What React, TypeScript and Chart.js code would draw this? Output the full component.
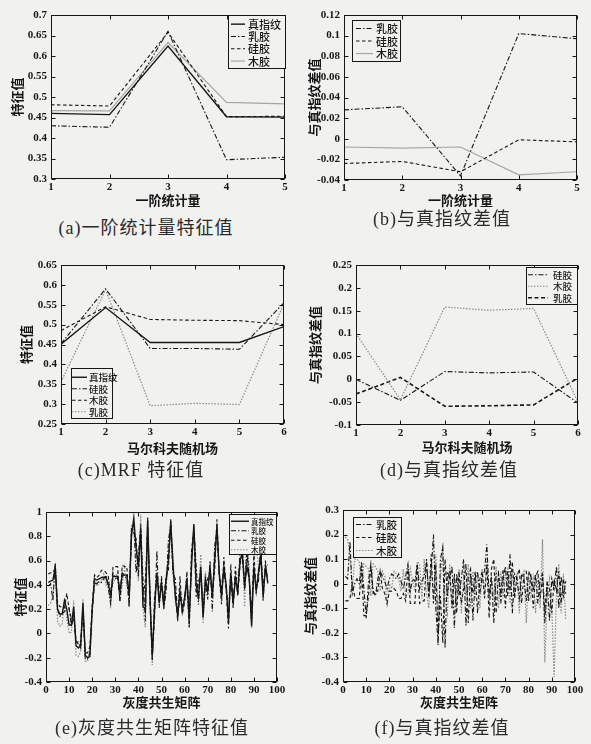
import React, { useEffect, useRef } from "react";
import { Chart, registerables } from "chart.js";

Chart.register(...registerables);

const BG = "#f1f1ef";
const INK = "#161616";
const LIGHT = "#a6a6a6";
const DOT = "#8a8a8a";
const MIXED = '"Liberation Serif", "Noto Sans CJK SC", serif';
const CJK = '"Noto Sans CJK SC", "Noto Sans CJK JP", sans-serif';

// ---------- (a) first-order statistics ----------
const firstOrderX = [1, 2, 3, 4, 5];
const aTrueFp = [0.46, 0.457, 0.624, 0.452, 0.451];
const aLatex = [0.43, 0.426, 0.66, 0.347, 0.353];
const aSilicone = [0.481, 0.478, 0.658, 0.452, 0.453];
const aWood = [0.467, 0.466, 0.633, 0.487, 0.483];

// ---------- (b) difference to true fingerprint ----------
const bLatex = [0.028, 0.031, -0.036, 0.102, 0.097];
const bSilicone = [-0.024, -0.022, -0.032, -0.001, -0.003];
const bWood = [-0.008, -0.009, -0.008, -0.035, -0.032];

// ---------- (c) MRF ----------
const mrfX = [1, 2, 3, 4, 5, 6];
const cTrueFp = [0.451, 0.543, 0.455, 0.455, 0.455, 0.495];
const cSilicone = [0.452, 0.59, 0.44, 0.44, 0.438, 0.555];
const cWood = [0.485, 0.545, 0.513, 0.511, 0.51, 0.5];
const cLatex = [0.356, 0.588, 0.296, 0.302, 0.299, 0.553];

// ---------- (d) MRF difference ----------
const dSilicone = [0.0, -0.046, 0.017, 0.014, 0.016, -0.052];
const dWood = [0.1, -0.045, 0.158, 0.151, 0.155, -0.05];
const dLatex = [-0.032, 0.004, -0.059, -0.058, -0.056, 0.003];

// ---------- (e) GLCM ----------
const glcmX = Array.from({ length: 96 }, (_, i) => i + 1);
const eTrueFp = [
  0.42, 0.43, 0.44, 0.54, 0.2, 0.16, 0.16, 0.27, 0.2, 0.07,
  0.07, 0.22, -0.1, -0.12, -0.1, 0.25, -0.18, -0.2, -0.19, 0.2,
  0.45, 0.44, 0.45, 0.46, 0.46, 0.46, 0.4, 0.32, 0.47, 0.47,
  0.47, 0.35, 0.48, 0.48, 0.48, 0.32, 0.8, 0.95, 0.7, 0.55,
  0.85, 0.22, 0.2, 0.93, 0.3, -0.18, 0.2, 0.5, 0.25, 0.42,
  0.22, 0.45, 0.6, 0.92, 0.55, 0.3, 0.15, 0.35, 0.18, 0.3,
  0.45, 0.15, 0.55, 0.9, 0.4, 0.3, 0.55, 0.13, 0.45, 0.35,
  0.55, 0.3, 0.6, 0.88, 0.5, 0.3, 0.55, 0.4, 0.09, 0.5,
  0.25, 0.45, 0.35, 0.6, 0.65, 0.4, 0.55, 0.45, 0.06, 0.55,
  0.35, 0.5, 0.65, 0.3, 0.55, 0.42,
];
const eLatex = [
  0.39, 0.41, 0.27, 0.58, 0.2, 0.14, 0.16, 0.18, 0.22, 0.21,
  0.06, 0.14, -0.07, -0.07, -0.12, 0.2, -0.21, -0.21, -0.17, 0.18,
  0.41, 0.41, 0.43, 0.42, 0.45, 0.48, 0.37, 0.24, 0.5, 0.45,
  0.46, 0.27, 0.5, 0.47, 0.45, 0.23, 0.85, 0.9, 0.5, 0.65,
  0.88, 0.45, 0.1, 0.95, 0.25, -0.2, 0.13, 0.68, 0.21, 0.47,
  0.2, 0.35, 0.77, 0.89, 0.49, 0.45, 0.13, 0.3, 0.22, 0.27,
  0.4, 0.05, 0.6, 0.87, 0.56, 0.26, 0.5, 0.21, 0.43, 0.28,
  0.6, 0.18, 0.72, 0.84, 0.48, 0.36, 0.51, 0.38, 0.16, 0.45,
  0.22, 0.48, 0.31, 0.68, 0.63, 0.36, 0.67, 0.44, 0.21, 0.53,
  0.37, 0.43, 0.75, 0.27, 0.6, 0.41,
];
const eSilicone = [
  0.49, 0.5, 0.5, 0.54, 0.25, 0.22, 0.22, 0.21, 0.33, 0.2,
  0.12, 0.15, -0.06, -0.09, -0.07, 0.2, -0.16, -0.16, -0.11, 0.23,
  0.48, 0.46, 0.48, 0.52, 0.52, 0.5, 0.47, 0.25, 0.55, 0.55,
  0.55, 0.27, 0.56, 0.55, 0.55, 0.22, 0.86, 0.83, 0.78, 0.47,
  0.9, 0.27, 0.44, 0.83, 0.35, -0.23, 0.3, 0.46, 0.37, 0.37,
  0.3, 0.47, 0.52, 0.95, 0.51, 0.34, 0.1, 0.47, 0.16, 0.25,
  0.51, 0.07, 0.69, 0.84, 0.3, 0.42, 0.51, 0.17, 0.39, 0.45,
  0.5, 0.33, 0.51, 0.94, 0.47, 0.24, 0.63, 0.36, 0.04, 0.57,
  0.21, 0.55, 0.32, 0.55, 0.71, 0.37, 0.71, 0.45, 0.08, 0.67,
  0.33, 0.53, 0.6, 0.38, 0.53, 0.46,
];
const eWood = [
  0.23, 0.25, 0.32, 0.57, 0.1, 0.06, 0.07, 0.29, 0.12, 0.0,
  0.01, 0.27, -0.18, -0.19, -0.15, 0.28, -0.23, -0.23, -0.11, 0.2,
  0.47, 0.39, 0.41, 0.44, 0.49, 0.4, 0.45, 0.36, 0.41, 0.46,
  0.5, 0.26, 0.4, 0.54, 0.38, 0.36, 0.9, 0.87, 0.75, 0.43,
  0.98, 0.2, 0.05, 0.96, 0.42, -0.26, 0.3, 0.47, 0.33, 0.36,
  0.34, 0.41, 0.65, 0.84, 0.65, 0.25, 0.21, 0.31, 0.28, 0.24,
  0.49, 0.05, 0.63, 0.88, 0.45, 0.23, 0.65, 0.08, 0.51, 0.32,
  0.49, 0.38, 0.55, 0.93, 0.46, 0.42, 0.52, 0.35, 0.25, 0.46,
  0.3, 0.43, 0.47, 0.57, 0.75, 0.22, 0.87, 0.5, 0.04, 0.65,
  0.73, 0.55, 0.57, 0.42, 0.51, 0.57,
];

// ---------- (f) GLCM difference ----------
const fLatex = [
  0.03, 0.02, 0.17, -0.04, 0.0, 0.02, 0.0, 0.09, -0.02, -0.14,
  0.01, 0.08, -0.03, -0.05, 0.02, 0.05, 0.03, 0.01, -0.02, 0.02,
  0.04, 0.03, 0.02, 0.04, 0.01, -0.02, 0.03, 0.08, -0.03, 0.02,
  0.01, 0.08, -0.02, 0.01, 0.03, 0.09, -0.05, 0.05, 0.2, -0.1,
  -0.25, 0.1, 0.15, -0.26, 0.05, 0.02, 0.07, -0.18, 0.04, -0.05,
  0.02, 0.1, -0.17, 0.03, 0.06, -0.15, 0.02, 0.05, -0.04, 0.03,
  0.05, 0.16, -0.05, 0.03, -0.16, 0.04, 0.05, -0.08, 0.02, 0.07,
  -0.05, 0.12, -0.12, 0.04, 0.02, -0.06, 0.04, 0.02, -0.07, 0.05,
  0.03, -0.03, 0.04, -0.08, 0.02, 0.04, -0.12, 0.01, -0.15, 0.02,
  -0.02, 0.07, -0.1, 0.03, -0.05, 0.01,
];
const fSilicone = [
  -0.07, -0.07, -0.06, 0.0, -0.05, -0.06, -0.06, 0.06, -0.13, -0.13,
  -0.05, 0.07, -0.04, -0.03, -0.03, 0.05, -0.02, -0.04, -0.08, -0.03,
  -0.03, -0.02, -0.03, -0.06, -0.06, -0.04, -0.07, 0.07, -0.08, -0.08,
  -0.08, 0.08, -0.08, -0.07, -0.07, 0.1, -0.06, 0.12, -0.08, 0.08,
  -0.22, -0.05, -0.24, 0.1, -0.05, 0.05, -0.1, 0.04, -0.12, 0.05,
  -0.08, -0.02, 0.08, -0.16, 0.04, -0.04, 0.05, -0.12, 0.02, 0.05,
  -0.06, 0.08, -0.14, 0.06, 0.1, -0.12, 0.04, -0.04, 0.06, -0.1,
  0.05, -0.03, 0.09, -0.06, 0.03, 0.06, -0.08, 0.04, 0.05, -0.07,
  0.04, -0.1, 0.03, 0.05, -0.06, 0.03, -0.16, 0.0, -0.02, -0.12,
  0.02, -0.03, 0.05, -0.08, 0.02, -0.04,
];
const fWood = [
  0.19, 0.18, 0.12, -0.03, 0.1, 0.1, 0.09, -0.02, 0.08, 0.07,
  0.06, -0.05, 0.08, 0.07, 0.05, -0.03, 0.05, 0.03, -0.08, 0.0,
  -0.02, 0.05, 0.04, 0.02, -0.03, 0.06, -0.05, -0.04, 0.06, 0.01,
  -0.03, 0.09, 0.08, -0.06, 0.1, -0.04, -0.1, 0.08, -0.05, 0.12,
  -0.15, 0.02, 0.15, -0.06, -0.12, 0.08, -0.1, 0.03, -0.08, 0.06,
  -0.12, 0.04, -0.05, 0.08, -0.1, 0.05, -0.06, 0.04, -0.1, 0.06,
  -0.04, 0.1, -0.08, 0.02, -0.05, 0.07, -0.1, 0.05, -0.06, 0.03,
  0.06, -0.08, 0.05, -0.05, 0.04, -0.12, 0.03, 0.05, -0.16, 0.04,
  -0.05, 0.02, -0.12, 0.03, -0.1, 0.18, -0.32, -0.05, 0.02, -0.1,
  -0.38, -0.05, 0.08, -0.12, 0.04, -0.15,
];

// ---------- line styles ----------
type LineStyle = { borderColor: string; borderDash: number[]; borderWidth: number };
const SOLID: LineStyle = { borderColor: INK, borderDash: [], borderWidth: 1.4 };
const DASHDOT: LineStyle = { borderColor: INK, borderDash: [5, 2, 1.5, 2], borderWidth: 1.1 };
const DASHED: LineStyle = { borderColor: INK, borderDash: [3.5, 2.5], borderWidth: 1.1 };
const DASHED_HEAVY: LineStyle = { borderColor: INK, borderDash: [4, 2.5], borderWidth: 1.6 };
const GRAYLINE: LineStyle = { borderColor: LIGHT, borderDash: [], borderWidth: 1.2 };
const DOTTED: LineStyle = { borderColor: DOT, borderDash: [1.5, 1.5], borderWidth: 1.2 };

type Series = { label: string; x: number[]; y: number[]; style: LineStyle };
type LegendDef = { box: [number, number, number, number]; rowH: number; padTop: number; line: [number, number]; textX: number; size: number };
type PanelDef = {
  cell: [number, number, number, number];
  area: [number, number, number, number];
  xr: [number, number, number];
  yr: [number, number, number];
  xTitle: string; xTitleY: number;
  yTitle: string; yTitleX: number;
  series: Series[];
  legend: LegendDef;
  caption: string; capX: number; capY: number;
};

const panels: PanelDef[] = [
  {
    cell: [0, 0, 295, 215], area: [51, 15, 285, 179],
    xr: [1, 5, 1], yr: [0.3, 0.7, 0.05],
    xTitle: "一阶统计量", xTitleY: 200, yTitle: "特征值", yTitleX: 17,
    series: [
      { label: "真指纹", x: firstOrderX, y: aTrueFp, style: SOLID },
      { label: "乳胶", x: firstOrderX, y: aLatex, style: DASHDOT },
      { label: "硅胶", x: firstOrderX, y: aSilicone, style: DASHED },
      { label: "木胶", x: firstOrderX, y: aWood, style: GRAYLINE },
    ],
    legend: { box: [228, 15, 57, 53], rowH: 12.3, padTop: 2.5, line: [231, 245], textX: 248, size: 11 },
    caption: "(a)一阶统计量特征值", capX: 146, capY: 228,
  },
  {
    cell: [295, 0, 296, 215], area: [344, 15, 577, 180],
    xr: [1, 5, 1], yr: [-0.04, 0.12, 0.02],
    xTitle: "一阶统计量", xTitleY: 200, yTitle: "与真指纹差值", yTitleX: 314,
    series: [
      { label: "乳胶", x: firstOrderX, y: bLatex, style: DASHDOT },
      { label: "硅胶", x: firstOrderX, y: bSilicone, style: DASHED },
      { label: "木胶", x: firstOrderX, y: bWood, style: GRAYLINE },
    ],
    legend: { box: [352, 20, 48, 41], rowH: 12.5, padTop: 1.8, line: [356, 373], textX: 376, size: 11 },
    caption: "(b)与真指纹差值", capX: 442, capY: 219,
  },
  {
    cell: [0, 250, 295, 212], area: [61, 265, 284, 424],
    xr: [1, 6, 1], yr: [0.25, 0.65, 0.05],
    xTitle: "马尔科夫随机场", xTitleY: 448, yTitle: "特征值", yTitleX: 26,
    series: [
      { label: "真指纹", x: mrfX, y: cTrueFp, style: SOLID },
      { label: "硅胶", x: mrfX, y: cSilicone, style: DASHDOT },
      { label: "木胶", x: mrfX, y: cWood, style: DASHED },
      { label: "乳胶", x: mrfX, y: cLatex, style: DOTTED },
    ],
    legend: { box: [71, 368, 41, 50], rowH: 11.5, padTop: 3, line: [72, 87], textX: 89, size: 9.5 },
    caption: "(c)MRF 特征值", capX: 141, capY: 470,
  },
  {
    cell: [295, 250, 296, 212], area: [356, 265, 578, 425],
    xr: [1, 6, 1], yr: [-0.1, 0.25, 0.05],
    xTitle: "马尔科夫随机场", xTitleY: 447, yTitle: "与真指纹差值", yTitleX: 315,
    series: [
      { label: "硅胶", x: mrfX, y: dSilicone, style: DASHDOT },
      { label: "木胶", x: mrfX, y: dWood, style: DOTTED },
      { label: "乳胶", x: mrfX, y: dLatex, style: DASHED_HEAVY },
    ],
    legend: { box: [526, 267, 51, 37], rowH: 11.5, padTop: 1.5, line: [528, 548], textX: 553, size: 9.5 },
    caption: "(d)与真指纹差值", capX: 449, capY: 470,
  },
  {
    cell: [0, 500, 295, 215], area: [46, 512, 277, 682],
    xr: [0, 100, 10], yr: [-0.4, 1, 0.2],
    xTitle: "灰度共生矩阵", xTitleY: 702, yTitle: "特征值", yTitleX: 20,
    series: [
      { label: "真指纹", x: glcmX, y: eTrueFp, style: SOLID },
      { label: "乳胶", x: glcmX, y: eLatex, style: DASHDOT },
      { label: "硅胶", x: glcmX, y: eSilicone, style: DASHED },
      { label: "木胶", x: glcmX, y: eWood, style: DOTTED },
    ],
    legend: { box: [229, 514, 47, 40], rowH: 9.5, padTop: 2, line: [231, 249], textX: 251, size: 7.5 },
    caption: "(e)灰度共生矩阵特征值", capX: 152, capY: 728,
  },
  {
    cell: [295, 500, 296, 215], area: [343, 510, 575, 682],
    xr: [0, 100, 10], yr: [-0.4, 0.3, 0.1],
    xTitle: "灰度共生矩阵", xTitleY: 702, yTitle: "与真指纹差值", yTitleX: 310,
    series: [
      { label: "乳胶", x: glcmX, y: fLatex, style: DASHDOT },
      { label: "硅胶", x: glcmX, y: fSilicone, style: DASHED },
      { label: "木胶", x: glcmX, y: fWood, style: DOTTED },
    ],
    legend: { box: [353, 517, 48, 40], rowH: 13, padTop: 0.5, line: [356, 373], textX: 376, size: 10.5 },
    caption: "(f)与真指纹差值", capX: 442, capY: 728,
  },
];

const fmt = (v: any) => String(parseFloat(Number(v).toFixed(4)));

const framePlugin = {
  id: "frameLegend",
  afterDraw(chart: any, _args: any, opts: any) {
    const { ctx, chartArea: a, scales } = chart;
    const xs = scales.x, ys = scales.y;
    ctx.save();
    ctx.strokeStyle = INK;
    ctx.lineWidth = 1;
    ctx.setLineDash([]);
    const L = Math.round(a.left) + 0.5, T = Math.round(a.top) + 0.5;
    const R = Math.round(a.right) - 0.5, B = Math.round(a.bottom) - 0.5;
    ctx.strokeRect(L, T, R - L, B - T);
    const tl = 4;
    ctx.beginPath();
    xs.ticks.forEach((t: any) => {
      const p = Math.round(xs.getPixelForValue(t.value)) + 0.5;
      ctx.moveTo(p, B); ctx.lineTo(p, B - tl);
      ctx.moveTo(p, T); ctx.lineTo(p, T + tl);
    });
    ys.ticks.forEach((t: any) => {
      const p = Math.round(ys.getPixelForValue(t.value)) + 0.5;
      ctx.moveTo(L, p); ctx.lineTo(L + tl, p);
      ctx.moveTo(R, p); ctx.lineTo(R - tl, p);
    });
    ctx.stroke();

    // legend box
    const lg: LegendDef = opts.legend;
    const ox = opts.ox, oy = opts.oy;
    const [bx, by, bw, bh] = lg.box;
    const x0 = Math.round(bx - ox) + 0.5, y0 = Math.round(by - oy) + 0.5;
    ctx.fillStyle = BG;
    ctx.fillRect(x0, y0, bw, bh);
    ctx.strokeStyle = INK;
    ctx.lineWidth = 1;
    ctx.strokeRect(x0, y0, bw, bh);
    chart.data.datasets.forEach((ds: any, i: number) => {
      const cy = y0 + lg.padTop + lg.rowH * (i + 0.5);
      ctx.save();
      ctx.strokeStyle = ds.borderColor;
      ctx.lineWidth = ds.borderWidth;
      ctx.setLineDash(ds.borderDash || []);
      ctx.beginPath();
      ctx.moveTo(lg.line[0] - ox, cy);
      ctx.lineTo(lg.line[1] - ox, cy);
      ctx.stroke();
      ctx.restore();
      ctx.fillStyle = INK;
      ctx.font = `500 ${lg.size}px ${CJK}`;
      ctx.textAlign = "left";
      ctx.textBaseline = "middle";
      ctx.fillText(ds.label, lg.textX - ox, cy + 0.5);
    });
    ctx.restore();
  },
};

function buildConfig(p: PanelDef): any {
  const [cx, cy, cw, ch] = p.cell;
  const [L, T, R, B] = p.area;
  const yw = L - cx;
  const xh = cy + ch - B;
  const titleSize = 13;
  const lh = titleSize * 1.2;
  const tickFont = { family: MIXED, size: 11, weight: "bold" as const, lineHeight: 1.2 };
  const titleFont = { family: CJK, size: titleSize, weight: "bold" as const, lineHeight: 1.2 };
  return {
    type: "line",
    data: {
      datasets: p.series.map((s) => ({
        label: s.label,
        data: s.x.map((xv, i) => ({ x: xv, y: s.y[i] })),
        borderColor: s.style.borderColor,
        borderDash: s.style.borderDash,
        borderWidth: s.style.borderWidth,
        backgroundColor: "transparent",
        pointRadius: 0,
        tension: 0,
        fill: false,
      })),
    },
    options: {
      responsive: false,
      animation: false,
      events: [],
      layout: { padding: { left: 0, top: T - cy, right: cx + cw - R, bottom: 0 } },
      plugins: {
        legend: { display: false },
        tooltip: { enabled: false },
        frameLegend: { legend: p.legend, ox: cx, oy: cy },
      },
      scales: {
        x: {
          type: "linear",
          min: p.xr[0], max: p.xr[1],
          ticks: { stepSize: p.xr[2], font: tickFont, color: INK, padding: 2, maxRotation: 0, autoSkip: false, callback: fmt },
          grid: { display: false, drawTicks: false },
          border: { display: false },
          title: {
            display: true, text: p.xTitle, color: INK, font: titleFont,
            padding: { top: 0, bottom: cy + ch - p.xTitleY - lh / 2 },
          },
          afterFit: (s: any) => { s.height = xh; s.paddingLeft = 0; s.paddingRight = 0; },
        },
        y: {
          type: "linear",
          min: p.yr[0], max: p.yr[1],
          ticks: { stepSize: p.yr[2], font: tickFont, color: INK, padding: 4, autoSkip: false, callback: fmt },
          grid: { display: false, drawTicks: false },
          border: { display: false },
          title: {
            display: true, text: p.yTitle, color: INK, font: titleFont,
            padding: { top: p.yTitleX - cx - lh / 2, bottom: 0 },
          },
          afterFit: (s: any) => { s.width = yw; s.paddingTop = 0; s.paddingBottom = 0; },
        },
      },
    },
    plugins: [framePlugin],
  };
}

function Panel({ p }: { p: PanelDef }) {
  const ref = useRef<HTMLCanvasElement>(null);
  useEffect(() => {
    if (!ref.current) return;
    const chart = new Chart(ref.current, buildConfig(p));
    return () => chart.destroy();
  }, [p]);
  const [cx, cy, cw, ch] = p.cell;
  return (
    <>
      <canvas
        ref={ref}
        width={cw}
        height={ch}
        style={{ position: "absolute", left: cx, top: cy, width: cw, height: ch }}
      />
      <div
        style={{
          position: "absolute",
          left: p.capX,
          top: p.capY,
          transform: "translate(-50%, -50%)",
          whiteSpace: "nowrap",
          fontFamily: MIXED,
          fontSize: 18,
          letterSpacing: 1,
          color: "#2a2a2a",
          lineHeight: 1,
        }}
      >
        {p.caption}
      </div>
    </>
  );
}

export default function App() {
  return (
    <div
      style={{
        position: "absolute",
        left: 0,
        top: 0,
        width: 591,
        height: 744,
        background: BG,
        overflow: "hidden",
      }}
    >
      {panels.map((p, i) => (
        <Panel key={i} p={p} />
      ))}
    </div>
  );
}
